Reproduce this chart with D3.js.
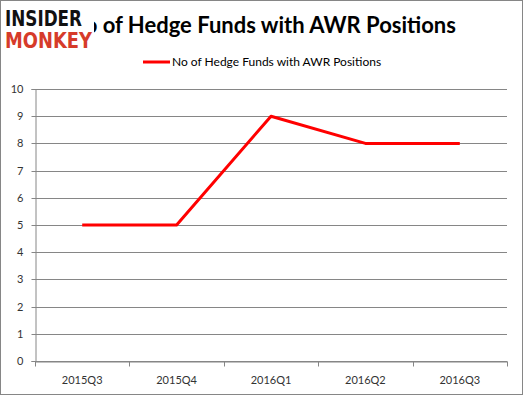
<!DOCTYPE html>
<html><head><meta charset="utf-8">
<script src="https://cdn.jsdelivr.net/npm/d3@7"></script>
<style>body{margin:0;background:#fff}svg{display:block}</style>
</head><body>
<script>
const categories = ["2015Q3","2015Q4","2016Q1","2016Q2","2016Q3"];
const values = [5,5,9,8,8];
const yTicks = [0,1,2,3,4,5,6,7,8,9,10];
const seriesName = "No of Hedge Funds with AWR Positions";
const titleText = "No of Hedge Funds with AWR Positions";

const W=523,H=395;
const svg=d3.select("body").append("svg").attr("width",W).attr("height",H);
svg.append("rect").attr("x",0.5).attr("y",0.5).attr("width",W-1).attr("height",H-1).attr("fill","#fff").attr("stroke","#868686");

const x=d3.scaleBand().domain(categories).range([35,507]);
const y=d3.scaleLinear().domain([0,10]).range([361,89]);
const font="Lato, 'Open Sans', sans-serif";

// gridlines
svg.append("g").selectAll("line").data(yTicks).join("line")
 .attr("x1",35).attr("x2",507).attr("y1",d=>Math.round(y(d))+0.5).attr("y2",d=>Math.round(y(d))+0.5)
 .attr("stroke","#868686").attr("stroke-width",1);

// y axis
const ya=svg.append("g").attr("transform","translate(35.5,0)")
 .call(d3.axisLeft(y).tickValues(yTicks).tickSize(4).tickPadding(8).tickFormat(d3.format("d")));
ya.select(".domain").attr("stroke","#868686");
ya.selectAll(".tick line").attr("stroke","#868686");
ya.selectAll(".tick").attr("transform",d=>`translate(0,${Math.round(y(d))+0.5})`);
ya.selectAll("text").attr("font-family",font).attr("font-size",11).attr("fill","#333");

// x axis
const xa=svg.append("g").attr("transform","translate(0,361.5)")
 .call(d3.axisBottom(x).tickSize(0).tickPadding(15));
xa.select(".domain").attr("stroke","#868686");
xa.selectAll("text").attr("font-family",font).attr("font-size",11).attr("fill","#333");
const edges=categories.map(c=>x(c)).concat([x.range()[1]]);
xa.selectAll(".edge").data(edges).join("line").attr("class","edge")
 .attr("x1",d=>Math.round(d)+0.5).attr("x2",d=>Math.round(d)+0.5).attr("y1",0).attr("y2",5).attr("stroke","#868686");

// line
const line=d3.line().x((d,i)=>x(categories[i])+x.bandwidth()/2).y(d=>y(d));
svg.append("path").datum(values).attr("d",line).attr("fill","none")
 .attr("stroke","#ff0000").attr("stroke-width",3).attr("stroke-linejoin","round");

// title
svg.append("text").attr("x",262).attr("y",33).attr("text-anchor","middle")
 .attr("font-family",font).attr("font-weight","bold").attr("font-size",22).attr("fill","#000").text(titleText);

// legend
svg.append("line").attr("x1",143).attr("x2",170).attr("y1",62).attr("y2",62).attr("stroke","#ff0000").attr("stroke-width",3);
svg.append("text").attr("x",172).attr("y",66).attr("font-family",font).attr("font-size",12).attr("fill","#000").text(seriesName);

// logo
const logo=svg.append("g");
logo.append("rect").attr("x",3).attr("y",6).attr("width",91).attr("height",44).attr("fill","#fff");
logo.append("text").attr("x",5).attr("y",26).attr("font-family","'DejaVu Sans Condensed','Liberation Sans Narrow',sans-serif").attr("font-weight","bold")
 .attr("font-size",21).attr("textLength",77).attr("lengthAdjust","spacingAndGlyphs").attr("fill","#111").text("INSIDER");
logo.append("text").attr("x",5).attr("y",48).attr("font-family","'DejaVu Sans Condensed','Liberation Sans Narrow',sans-serif").attr("font-weight","bold")
 .attr("font-size",22).attr("textLength",87).attr("lengthAdjust","spacingAndGlyphs").attr("fill","#d63b2a").text("MONKEY");
</script>
</body></html>
